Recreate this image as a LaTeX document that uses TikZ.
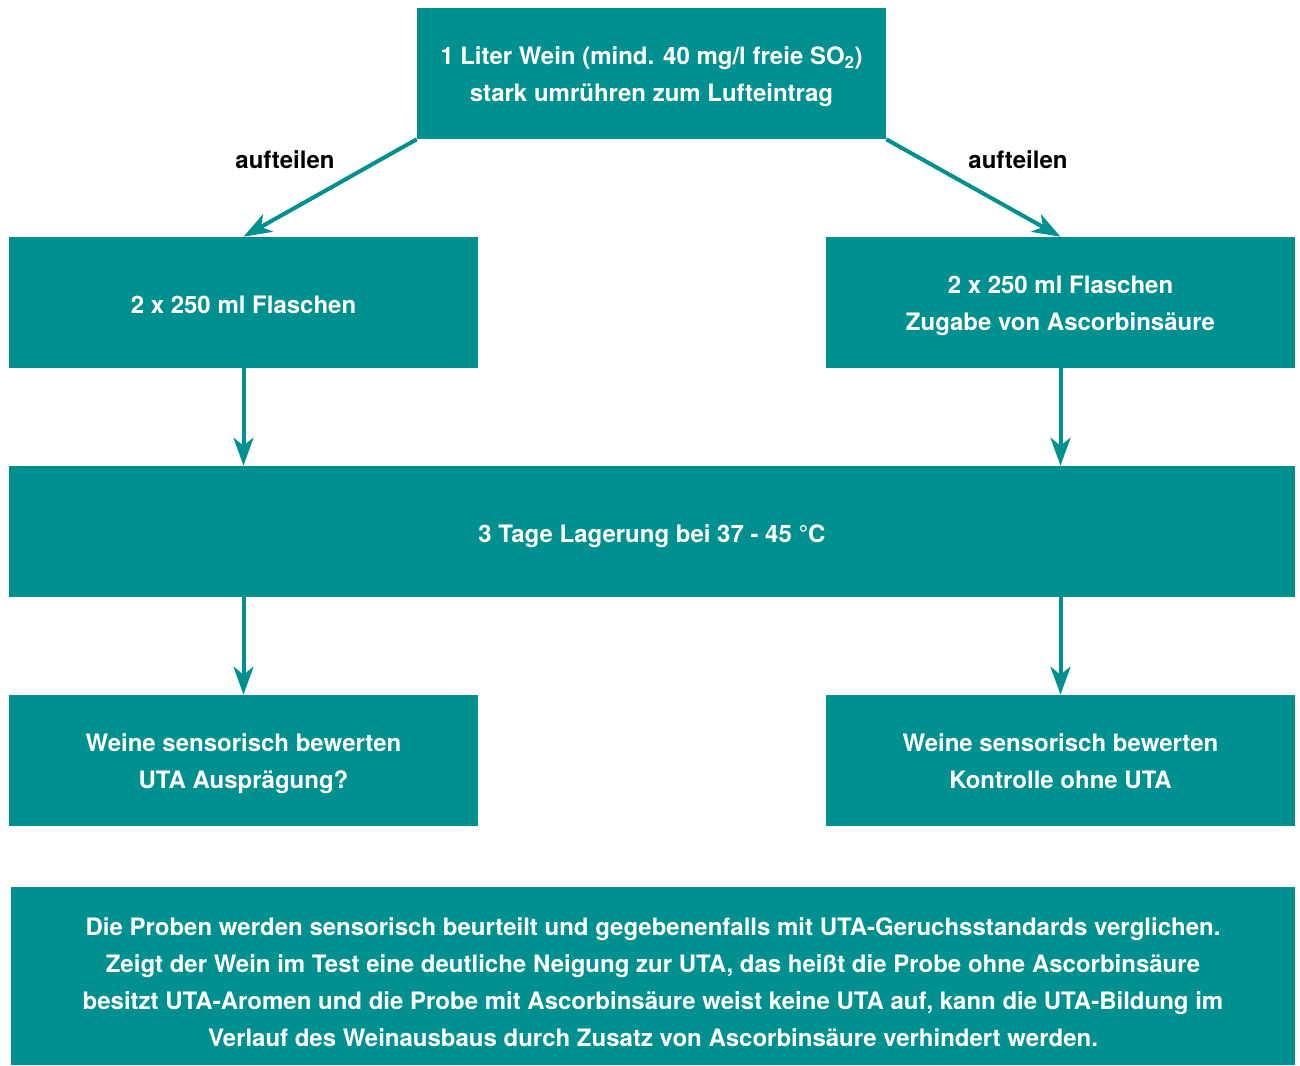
\documentclass[tikz,border=0pt]{standalone}
\usepackage{fontspec}
\setmainfont{TeX Gyre Heros}
\usetikzlibrary{arrows.meta}

\definecolor{teal}{RGB}{0,144,143}
\newcommand{\topgap}[1]{\rule{0pt}{#1}}

\tikzset{
  box/.style={fill=teal, text=white, align=center, inner sep=0pt,
    minimum width=351.75pt, minimum height=98.25pt,
    font=\bfseries\fontsize{18}{27.75}\selectfont},
  widebox/.style={box, minimum width=964.5pt},
  notebox/.style={box, minimum width=963pt, minimum height=133.5pt},
  flow/.style={draw=teal, line width=3pt,
    -{Stealth[length=21pt, width=15pt, inset=6pt]}},
  lbl/.style={font=\bfseries\fontsize{18}{21}\selectfont}
}

\begin{document}
\begin{tikzpicture}[x=0.75pt, y=-0.75pt]
\useasboundingbox (0,0) rectangle (1300,1066);
\node[box] (A) at (651.5,73.5) {\topgap{18pt}1 Liter Wein (mind. 40 mg/l freie SO\textsubscript{2})\\stark umrühren zum Lufteintrag\rule[-4pt]{0pt}{0pt}};
\node[box] (B) at (243.5,302.5) {\topgap{21pt}2 x 250 ml Flaschen\rule[-4pt]{0pt}{0pt}};
\node[box] (C) at (1060.5,302.5) {\topgap{18pt}2 x 250 ml Flaschen\\Zugabe von Ascorbinsäure\rule[-4pt]{0pt}{0pt}};
\node[widebox] (D) at (652,531.5) {\topgap{21pt}3 Tage Lagerung bei 37 - 45 °C\rule[-4pt]{0pt}{0pt}};
\node[box] (E) at (243.5,760.5) {\topgap{18pt}Weine sensorisch bewerten\\UTA Ausprägung?\rule[-4pt]{0pt}{0pt}};
\node[box] (F) at (1060.5,760.5) {\topgap{18pt}Weine sensorisch bewerten\\Kontrolle ohne UTA\rule[-4pt]{0pt}{0pt}};
\node[notebox] (G) at (653,976) {\topgap{26pt}Die Proben werden sensorisch beurteilt und gegebenenfalls mit UTA-Geruchsstandards verglichen.\\
Zeigt der Wein im Test eine deutliche Neigung zur UTA, das heißt die Probe ohne Ascorbinsäure\\
besitzt UTA-Aromen und die Probe mit Ascorbinsäure weist keine UTA auf, kann die UTA-Bildung im\\
Verlauf des Weinausbaus durch Zusatz von Ascorbinsäure verhindert werden.\rule[-4pt]{0pt}{0pt}};
\node[lbl] (L1) at (285,160) {aufteilen};
\node[lbl] (L2) at (1018,160) {aufteilen};
\draw [flow] (A.south west) -- (B.north);
\draw [flow] (A.south east) -- (C.north);
\draw [flow] (B.south) -- (B.south |- D.north);
\draw [flow] (C.south) -- (C.south |- D.north);
\draw [flow] (B.south |- D.south) -- (E.north);
\draw [flow] (C.south |- D.south) -- (F.north);
\end{tikzpicture}
\end{document}
